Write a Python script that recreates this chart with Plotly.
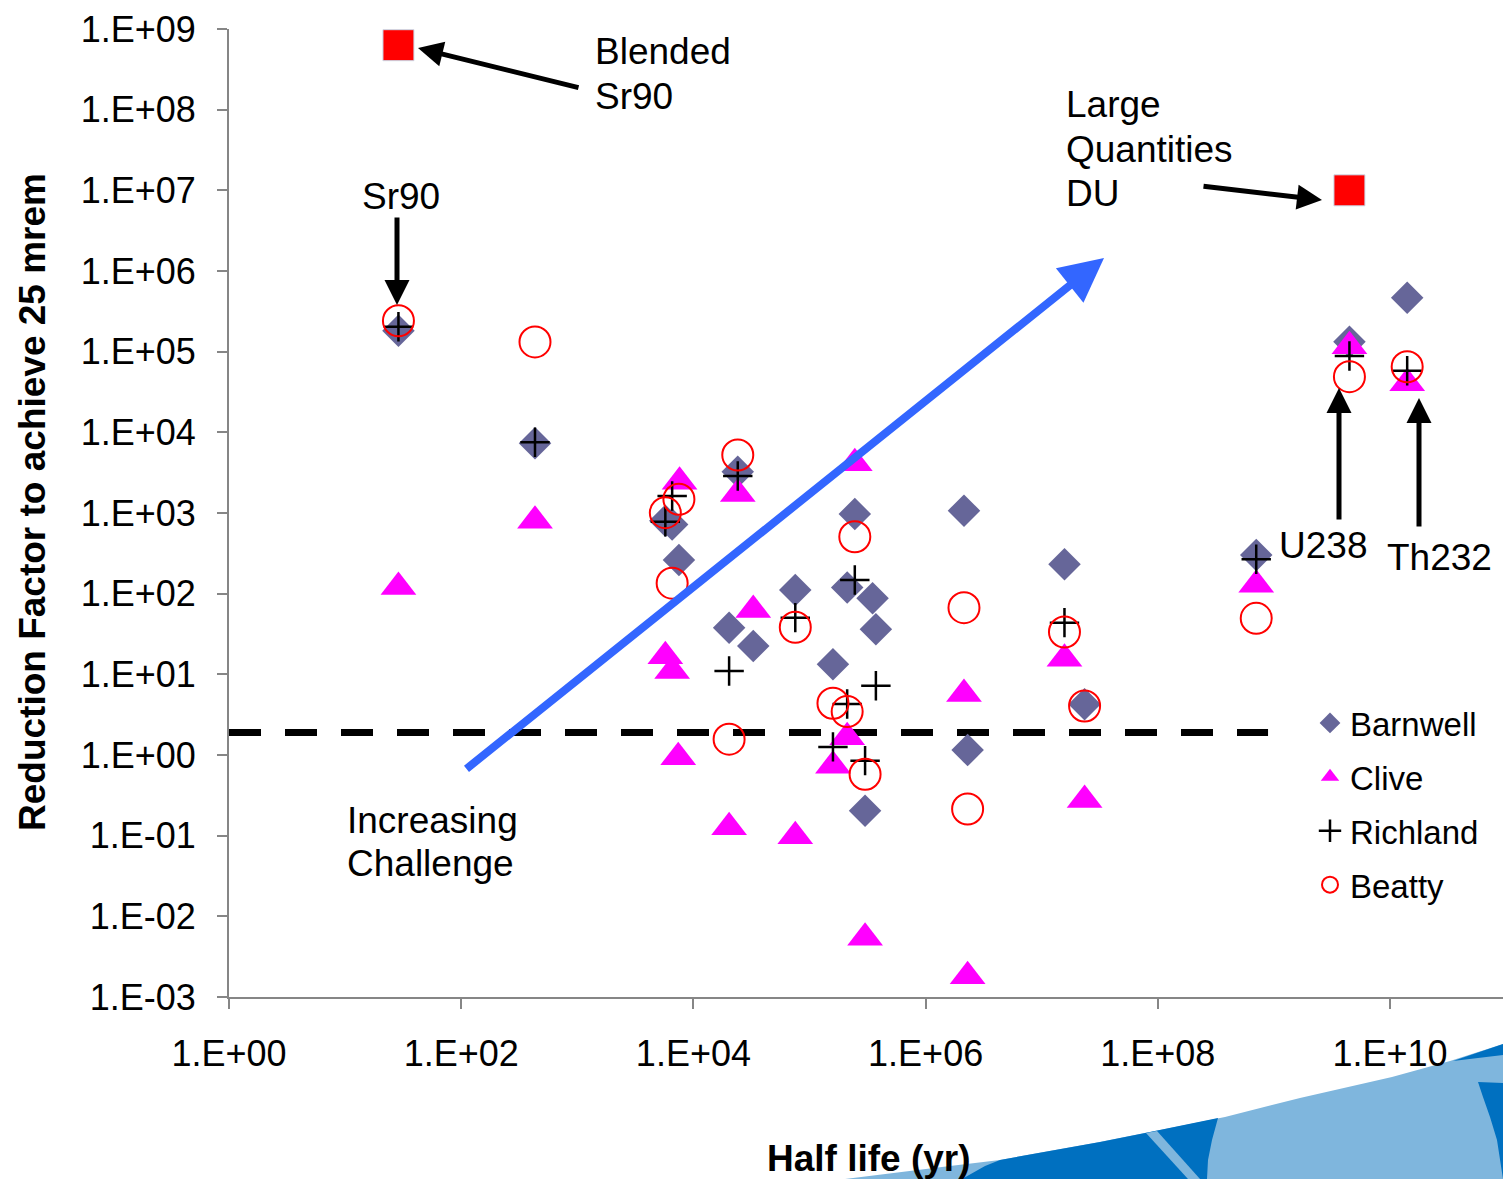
import plotly.graph_objects as go

# ---------------- data ----------------
barnwell_x = [28.8, 432, 5730, 6560, 7500, 24100, 20300, 32760, 75400, 159200, 211000,
              245500, 349000, 373000, 301000, 2.14e6, 2.3e6, 1.57e7, 2.34e7, 7.04e8,
              4.47e9, 1.405e10]
barnwell_y = [1.82e5, 7.3e3, 800, 720, 262, 3250, 37.9, 22.5, 111, 13.3, 119,
              972, 87.7, 36.2, 0.204, 1069, 1.15, 231, 4.25, 302,
              1.33e5, 4.67e5]

clive_x = [28.8, 432, 7600, 5730, 6560, 7400, 24100, 20300, 32760, 75400, 159200,
           211000, 245500, 301000, 2.14e6, 2.3e6, 1.57e7, 2.34e7, 7.04e8, 4.47e9, 1.405e10]
clive_y = [121, 803, 2444, 16.7, 11.0, 0.94, 1722, 0.127, 62.8, 0.098, 0.738,
           1.66, 4130, 0.00543, 5.71, 0.00181, 15.6, 0.277, 129, 1.17e5, 4.06e4]

richland_x = [28.8, 432, 6560, 5730, 24100, 20300, 75400, 159200, 211000, 245500,
              301000, 373000, 1.57e7, 7.04e8, 4.47e9, 1.405e10]
richland_y = [2.04e5, 7530, 1626, 780, 2877, 11.0, 50.4, 1.26, 4.29, 148,
              0.851, 7.23, 43.7, 267, 8.84e4, 5.81e4]

beatty_x = [28.8, 432, 5730, 7500, 6560, 24100, 20300, 75400, 159200, 211000,
            245500, 301000, 2.14e6, 2.3e6, 1.57e7, 2.34e7, 7.04e8, 4.47e9, 1.405e10]
beatty_y = [2.42e5, 1.32e5, 1009, 1479, 135, 5240, 1.57, 38.3, 4.38, 3.45,
            508, 0.577, 67, 0.214, 33.5, 4.05, 49.5, 4.9e4, 6.5e4]

special_x = [28.8, 4.47e9]          # Blended Sr90, Large Quantities DU
special_y = [6.3e8, 1.0e7]

threshold_x = [1, 8.9e8]
threshold_y = [1.9, 1.9]

x_tickvals = [1e0, 1e2, 1e4, 1e6, 1e8, 1e10]
x_ticktext = ["1.E+00", "1.E+02", "1.E+04", "1.E+06", "1.E+08", "1.E+10"]
y_tickvals = [1e-3, 1e-2, 1e-1, 1e0, 1e1, 1e2, 1e3, 1e4, 1e5, 1e6, 1e7, 1e8, 1e9]
y_ticktext = ["1.E-03", "1.E-02", "1.E-01", "1.E+00", "1.E+01", "1.E+02", "1.E+03",
              "1.E+04", "1.E+05", "1.E+06", "1.E+07", "1.E+08", "1.E+09"]

# ---------------- layout geometry ----------------
W, H = 1503, 1179
L, R, T, B = 229, 1503, 29, 997
FONT = "Liberation Sans, Arial, sans-serif"


def px(x):
    return (x - L) / (R - L)


def py(y):
    return (B - y) / (B - T)


fig = go.Figure()

fig.add_trace(go.Scatter(x=threshold_x, y=threshold_y, mode="lines",
                         line=dict(color="black", width=7, dash="32px,24px"),
                         showlegend=False, hoverinfo="skip"))

fig.add_trace(go.Scatter(x=special_x, y=special_y, mode="markers", showlegend=False,
                         marker=dict(symbol="square", size=31, color="#FF0000",
                                     line=dict(color="#C9DCEB", width=1))))

fig.add_trace(go.Scatter(x=barnwell_x, y=barnwell_y, mode="markers", name="Barnwell",
                         legendgroup="a",
                         marker=dict(symbol="diamond", size=25, color="#666699",
                                     line=dict(width=0))))
fig.add_trace(go.Scatter(x=clive_x, y=clive_y, mode="markers", name="Clive",
                         legendgroup="b",
                         marker=dict(symbol="triangle-up", size=31, color="#FF00FF",
                                     line=dict(width=0))))
fig.add_trace(go.Scatter(x=richland_x, y=richland_y, mode="markers", name="Richland",
                         legendgroup="c",
                         marker=dict(symbol="cross-thin", size=21, color="black",
                                     line=dict(color="black", width=2.5))))
fig.add_trace(go.Scatter(x=beatty_x, y=beatty_y, mode="markers", name="Beatty",
                         legendgroup="d",
                         marker=dict(symbol="circle-open", size=31, color="#FF0000",
                                     line=dict(color="#FF0000", width=2))))

annotations = []


def text_at(txt, x, y, xanchor="left", size=37, bold=False, angle=0):
    t = f"<b>{txt}</b>" if bold else txt
    annotations.append(dict(text=t, x=px(x), y=py(y), xref="paper", yref="paper",
                            xanchor=xanchor, yanchor="middle", showarrow=False,
                            textangle=angle,
                            font=dict(family=FONT, size=size, color="black")))


def arrow(tail, tip, color="black", width=5, size=1.0, head=2):
    annotations.append(dict(text="", x=px(tip[0]), y=py(tip[1]), xref="paper", yref="paper",
                            ax=tail[0] - tip[0], ay=tail[1] - tip[1],
                            axref="pixel", ayref="pixel", showarrow=True,
                            arrowhead=head, arrowsize=size, arrowwidth=width,
                            arrowcolor=color))


text_at("Blended", 593, 52)
text_at("Sr90", 593, 97)
text_at("Large", 1064, 105)
text_at("Quantities", 1064, 149)
text_at("DU", 1064, 193)
text_at("Sr90", 401, 196, xanchor="center")
text_at("U238", 1277, 545)
text_at("Th232", 1385, 557)
text_at("Increasing", 345, 820)
text_at("Challenge", 345, 863)

arrow((580, 88), (418, 48))
arrow((397, 216), (397, 305))
arrow((1202, 186), (1322, 200))
arrow((1339, 521), (1339, 388))
arrow((1419, 528), (1419, 398))
arrow((465, 770), (1104, 258), color="#3366FF", width=8, size=1.1)

# axis titles
text_at("Reduction Factor to achieve 25 mrem", 32, 502, xanchor="center", bold=True, angle=-90)
text_at("Half life (yr)", 869, 1158, xanchor="center", bold=True)


# decorative slide swoosh (bottom right)
def path(points):
    s = "M " + " L ".join(f"{px(a):.5f},{py(b):.5f}" for a, b in points) + " Z"
    return s


light = [(845, 1179), (950, 1166), (1000, 1160), (1100, 1142), (1150, 1132), (1225, 1117),
         (1300, 1098), (1392, 1077), (1450, 1061), (1503, 1044), (1503, 1179)]
darkA = [(962, 1179), (985, 1166), (1000, 1160), (1100, 1142), (1150, 1132), (1218, 1118),
         (1212, 1140), (1208, 1160), (1207, 1179)]
stripe = [(1146, 1133), (1157, 1131), (1200, 1179), (1188, 1179)]
darkB = [(1453, 1061), (1503, 1044), (1503, 1055)]
darkC = [(1478, 1082), (1503, 1083), (1503, 1179), (1497, 1140), (1490, 1117), (1483, 1097)]

shapes = []
for pts, col in [(light, "#7FB6DD"), (darkA, "#0070C0"), (stripe, "#7FB6DD"),
                 (darkB, "#0070C0"), (darkC, "#0070C0")]:
    shapes.append(dict(type="path", path=path(pts), xref="paper", yref="paper",
                       fillcolor=col, line=dict(width=0), layer="below"))

axis_common = dict(showline=True, linecolor="#868686", linewidth=2, ticks="outside",
                   tickcolor="#868686", tickwidth=2, ticklen=10, showgrid=False,
                   zeroline=False, mirror=False,
                   tickfont=dict(family=FONT, size=36, color="black"))

fig.update_layout(
    width=W, height=H,
    margin=dict(l=L, r=W - R, t=T, b=H - B, autoexpand=False),
    paper_bgcolor="white", plot_bgcolor="white",
    font=dict(family=FONT, color="black"),
    xaxis=dict(type="log", range=[0, 10.973], tickvals=x_tickvals, ticktext=x_ticktext,
               ticklabelstandoff=14, **axis_common),
    yaxis=dict(type="log", range=[-3, 9], tickvals=y_tickvals, ticktext=y_ticktext,
               ticklabelstandoff=14, **axis_common),
    legend=dict(x=px(1310), y=py(695), xanchor="left", yanchor="top",
                bgcolor="rgba(0,0,0,0)", font=dict(family=FONT, size=33, color="black"),
                tracegroupgap=8, traceorder="grouped"),
    annotations=annotations,
    shapes=shapes,
)

fig.write_html("out.html")
